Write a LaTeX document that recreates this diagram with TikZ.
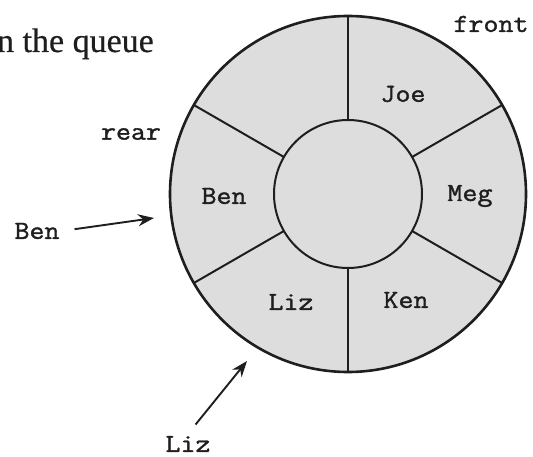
\documentclass[tikz,border=0pt]{standalone}
\usepackage{fontspec}
\setmainfont{Liberation Serif}
\newfontfamily\serfont[FakeBold=0.5]{Liberation Serif}
\newfontfamily\courfont[FakeBold=1.4, FakeStretch=1.12]{Latin Modern Mono}
\usetikzlibrary{arrows.meta,calc}
\definecolor{ringgray}{RGB}{221,221,221}
\definecolor{inkc}{RGB}{30,30,30}
\tikzset{
  lbl/.style={font=\courfont\fontsize{26}{29}\selectfont, text=inkc, inner sep=2pt},
  ringline/.style={draw=inkc, line width=2pt},
  arr/.style={draw=inkc, line width=1.9pt, -{Stealth[length=16pt, width=12pt]}},
}
\begin{document}
\begin{tikzpicture}[x=1pt, y=-1pt]
\useasboundingbox (0,0) rectangle (533,457);
% ring
\coordinate (c) at (348,194);
\fill[ringgray] (c) circle (178);
\foreach \a in {90,30,-30,-90,210,150}
  \draw[ringline] ($(c)+(\a:74)$) -- ($(c)+(\a:178)$);
\draw[ringline, line width=2.6pt] (c) circle (178);
\draw[ringline] (c) circle (74);
% sector labels
\node[lbl] (joe) at (403,94) {Joe};
\node[lbl] (meg) at (470,196) {Meg};
\node[lbl] (ken) at (406,300) {Ken};
\node[lbl] (liz) at (291,302) {Liz};
\node[lbl] (ben) at (224,196) {Ben};
% outside labels
\node[lbl] (front) at (491,24) {front};
\node[lbl] (rear) at (131,134) {rear};
\node[lbl] (benout) at (37,231) {Ben};
\node[lbl] (lizout) at (188,444) {Liz};
\node[font=\serfont\fontsize{34}{40}\selectfont, text=inkc, anchor=base east, inner sep=0pt] (queue) at (154,52) {n the queue};
% arrows
\coordinate (bentip) at (154,218);
\coordinate (liztip) at (247,361);
\draw[arr, shorten <=13pt] (benout.east) -- (bentip);
\draw[arr, shorten <=12pt] (lizout.north) -- (liztip);
\end{tikzpicture}
\end{document}
